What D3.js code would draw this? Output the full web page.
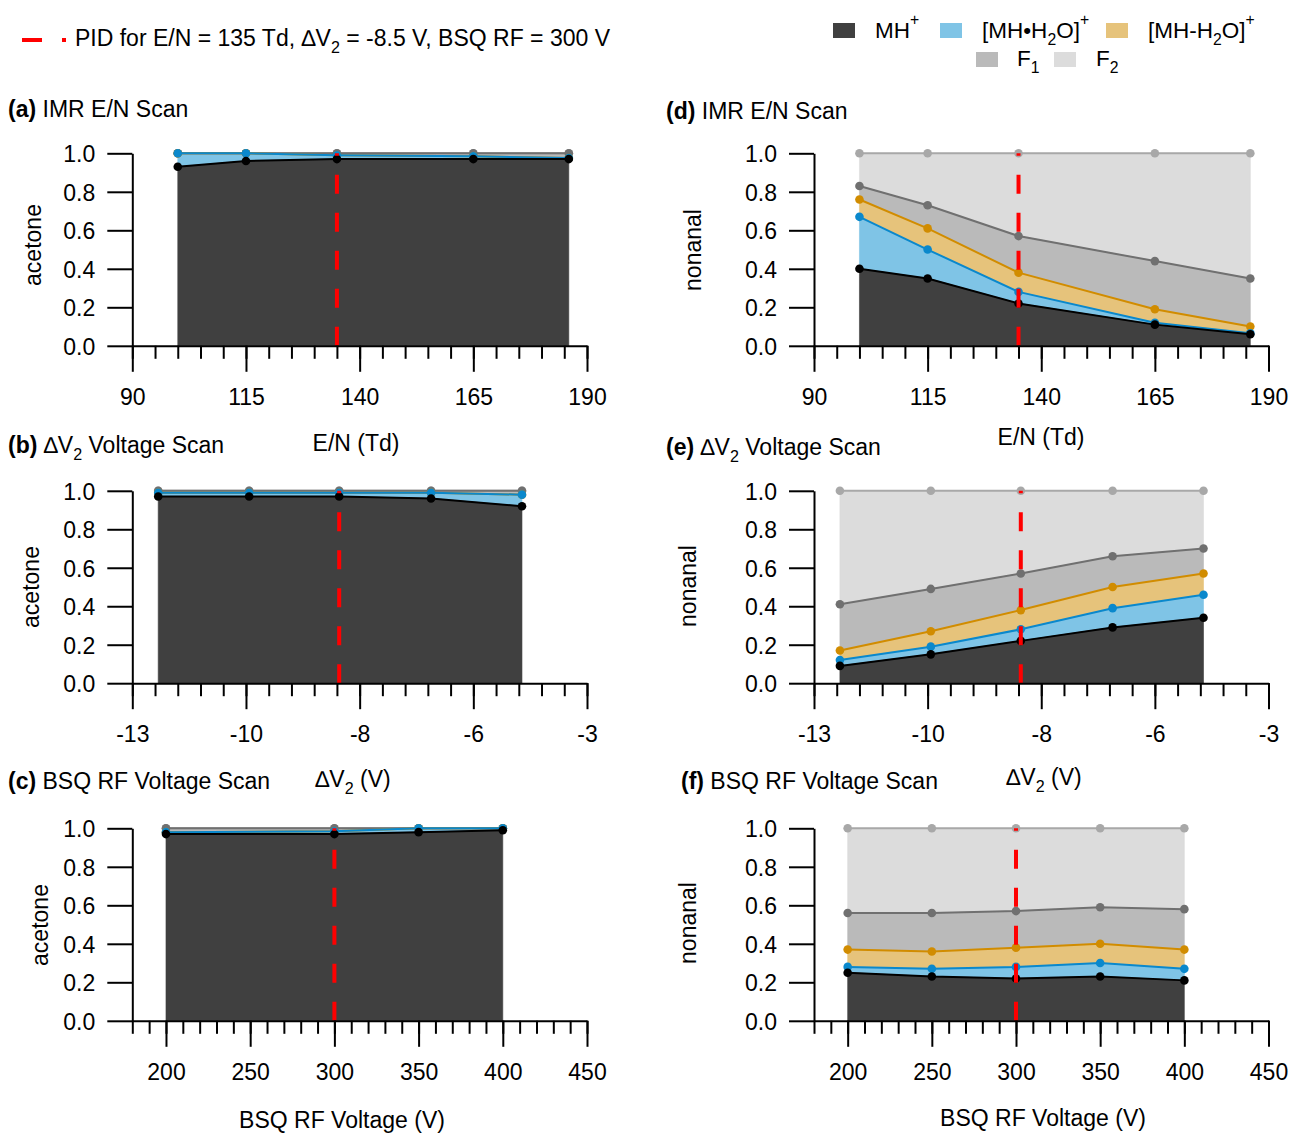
<!DOCTYPE html>
<html><head><meta charset="utf-8">
<script src="https://cdn.jsdelivr.net/npm/d3@7"></script>
<style>
body{margin:0;background:#fff}
svg{display:block}
text{font-family:"Liberation Sans",Arial,Helvetica,sans-serif;fill:#000}
</style>
</head><body>
<svg id="chart" width="1291" height="1133"></svg>
<script>
// ---------------- DATA ----------------
const seriesKeys = ["MH", "MHH2O", "MHmH2O", "F1", "F2"];

// x values
const enX = [100, 115, 135, 165, 186];
const dv2X = [-12.43, -10.43, -8.45, -6.43, -4.43];
const rfXAcetone = [200, 300, 350, 400];
const rfXNonanal = [200, 250, 300, 350, 400];

// tick values / labels
const enTicks = [90, 115, 140, 165, 190];
const enTickLabels = ["90", "115", "140", "165", "190"];
const dv2Ticks = [-13, -10.5, -8, -5.5, -3];
const dv2TickLabels = ["-13", "-10", "-8", "-6", "-3"];
const rfTicks = [200, 250, 300, 350, 400, 450];
const rfTickLabels = ["200", "250", "300", "350", "400", "450"];
const yTicks = [0, 0.2, 0.4, 0.6, 0.8, 1.0];
const yTickLabels = ["0.0", "0.2", "0.4", "0.6", "0.8", "1.0"];

// acetone - E/N scan
const acEN_MH     = [0.93, 0.96, 0.97, 0.97, 0.97];
const acEN_MHH2O  = [0.07, 0.04, 0.02, 0.015, 0.005];
const acEN_MHmH2O = [0, 0, 0, 0, 0];
const acEN_F1     = [0, 0, 0.01, 0.015, 0.025];
const acEN_F2     = [0, 0, 0, 0, 0];
// acetone - dV2 scan
const acDV_MH     = [0.97, 0.97, 0.97, 0.96, 0.92];
const acDV_MHH2O  = [0.02, 0.02, 0.02, 0.03, 0.06];
const acDV_MHmH2O = [0, 0, 0, 0, 0];
const acDV_F1     = [0.01, 0.01, 0.01, 0.01, 0.02];
const acDV_F2     = [0, 0, 0, 0, 0];
// acetone - BSQ RF scan
const acRF_MH     = [0.97, 0.97, 0.98, 0.99];
const acRF_MHH2O  = [0.01, 0.015, 0.02, 0.01];
const acRF_MHmH2O = [0, 0, 0, 0];
const acRF_F1     = [0.02, 0.015, 0, 0];
const acRF_F2     = [0, 0, 0, 0];
// nonanal - E/N scan
const noEN_MH     = [0.40, 0.35, 0.22, 0.11, 0.06];
const noEN_MHH2O  = [0.27, 0.15, 0.06, 0.01, 0.005];
const noEN_MHmH2O = [0.09, 0.11, 0.10, 0.07, 0.035];
const noEN_F1     = [0.07, 0.12, 0.19, 0.25, 0.25];
const noEN_F2     = [0.17, 0.27, 0.43, 0.56, 0.65];
// nonanal - dV2 scan
const noDV_MH     = [0.09, 0.15, 0.22, 0.29, 0.34];
const noDV_MHH2O  = [0.03, 0.04, 0.06, 0.10, 0.12];
const noDV_MHmH2O = [0.05, 0.08, 0.10, 0.11, 0.11];
const noDV_F1     = [0.24, 0.22, 0.19, 0.16, 0.13];
const noDV_F2     = [0.59, 0.51, 0.43, 0.34, 0.30];
// nonanal - BSQ RF scan
const noRF_MH     = [0.25, 0.23, 0.22, 0.23, 0.21];
const noRF_MHH2O  = [0.03, 0.04, 0.06, 0.07, 0.06];
const noRF_MHmH2O = [0.09, 0.09, 0.10, 0.10, 0.10];
const noRF_F1     = [0.19, 0.20, 0.19, 0.19, 0.21];
const noRF_F2     = [0.44, 0.44, 0.43, 0.41, 0.42];

// ---------------- STYLE ----------------
const fillColors = {MH: "#404040", MHH2O: "#7fc4e6", MHmH2O: "#e6c37b", F1: "#bababa", F2: "#dcdcdc"};
const lineColors = {MH: "#000000", MHH2O: "#0a88cc", MHmH2O: "#d18c00", F1: "#707070", F2: "#a8a8a8"};
const FS = 23, TFS = 23;

const svg = d3.select("#chart");

function rich(g, x, y, segs, opts = {}) {
  const fs = opts.fs || FS;
  const t = g.append("text").attr("x", x).attr("y", y).attr("font-size", fs)
    .attr("text-anchor", opts.anchor || "start");
  if (opts.transform) t.attr("transform", opts.transform);
  let shift = 0;
  segs.forEach(s => {
    const sp = t.append("tspan").text(s.t);
    let target = 0;
    if (s.sub) { sp.attr("font-size", fs * 0.7); target = fs * 0.3; }
    if (s.sup) { sp.attr("font-size", fs * 0.7); target = -fs * 0.6; }
    if (s.bold) sp.attr("font-weight", "bold");
    if (target !== shift) { sp.attr("dy", target - shift); shift = target; }
  });
  return t;
}

const cols = [[132.3, 587], [814, 1268.5]];
const rows = [[345.8, 153.3], [683.2, 490.8], [1020.8, 828.3]];

function mk(x, arrs) {
  return x.map((v, i) => ({x: v, MH: arrs[0][i], MHH2O: arrs[1][i], MHmH2O: arrs[2][i], F1: arrs[3][i], F2: arrs[4][i]}));
}

const dVlabel = [{t: "\u2206V"}, {t: "2", sub: true}, {t: " (V)"}];

const panels = [
  {col: 0, row: 0, data: mk(enX, [acEN_MH, acEN_MHH2O, acEN_MHmH2O, acEN_F1, acEN_F2]), pid: 2,
   domain: [90, 190], ticks: enTicks, tickLabels: enTickLabels, minorStep: 5,
   title: [{t: "(a)", bold: true}, {t: " IMR E/N Scan"}], titlePos: [8, 109],
   xlabel: [{t: "E/N (Td)"}], xlabelPos: [356, 443], ylabel: "acetone", ylabelPos: [33, 245]},
  {col: 0, row: 1, data: mk(dv2X, [acDV_MH, acDV_MHH2O, acDV_MHmH2O, acDV_F1, acDV_F2]), pid: 2,
   domain: [-13, -3], ticks: dv2Ticks, tickLabels: dv2TickLabels, minorStep: 0.5,
   title: [{t: "(b)", bold: true}, {t: " \u2206V"}, {t: "2", sub: true}, {t: "  Voltage Scan"}], titlePos: [8, 445],
   xlabel: dVlabel, xlabelPos: [353, 779], ylabel: "acetone", ylabelPos: [31, 587]},
  {col: 0, row: 2, data: mk(rfXAcetone, [acRF_MH, acRF_MHH2O, acRF_MHmH2O, acRF_F1, acRF_F2]), pid: 1,
   domain: [180, 450], ticks: rfTicks, tickLabels: rfTickLabels, minorStep: 10,
   title: [{t: "(c)", bold: true}, {t: " BSQ RF Voltage Scan"}], titlePos: [8, 781],
   xlabel: [{t: "BSQ RF Voltage (V)"}], xlabelPos: [342, 1120], ylabel: "acetone", ylabelPos: [40, 925]},
  {col: 1, row: 0, data: mk(enX, [noEN_MH, noEN_MHH2O, noEN_MHmH2O, noEN_F1, noEN_F2]), pid: 2,
   domain: [90, 190], ticks: enTicks, tickLabels: enTickLabels, minorStep: 5,
   title: [{t: "(d)", bold: true}, {t: " IMR E/N Scan"}], titlePos: [666, 111],
   xlabel: [{t: "E/N (Td)"}], xlabelPos: [1041, 437], ylabel: "nonanal", ylabelPos: [693, 250]},
  {col: 1, row: 1, data: mk(dv2X, [noDV_MH, noDV_MHH2O, noDV_MHmH2O, noDV_F1, noDV_F2]), pid: 2,
   domain: [-13, -3], ticks: dv2Ticks, tickLabels: dv2TickLabels, minorStep: 0.5,
   title: [{t: "(e)", bold: true}, {t: " \u2206V"}, {t: "2", sub: true}, {t: "  Voltage Scan"}], titlePos: [666, 447],
   xlabel: dVlabel, xlabelPos: [1044, 777], ylabel: "nonanal", ylabelPos: [688, 586]},
  {col: 1, row: 2, data: mk(rfXNonanal, [noRF_MH, noRF_MHH2O, noRF_MHmH2O, noRF_F1, noRF_F2]), pid: 2,
   domain: [180, 450], ticks: rfTicks, tickLabels: rfTickLabels, minorStep: 10,
   title: [{t: "(f)", bold: true}, {t: " BSQ RF Voltage Scan"}], titlePos: [681, 781],
   xlabel: [{t: "BSQ RF Voltage (V)"}], xlabelPos: [1043, 1118], ylabel: "nonanal", ylabelPos: [688, 923]}
];

const stack = d3.stack().keys(seriesKeys);

panels.forEach(p => {
  const x = d3.scaleLinear().domain(p.domain).range(cols[p.col]);
  const y = d3.scaleLinear().domain([0, 1]).range(rows[p.row]);
  const g = svg.append("g");
  const layers = stack(p.data);

  // draw from top layer down so MH is on top
  layers.slice().reverse().forEach(layer => {
    const key = layer.key;
    const area = d3.area().x(d => x(d.data.x)).y0(d => y(d[0])).y1(d => y(d[1]));
    g.append("path").datum(layer).attr("d", area).attr("fill", fillColors[key])
      .attr("stroke", fillColors[key]).attr("stroke-width", 0.6);
  });
  layers.slice().reverse().forEach(layer => {
    const key = layer.key;
    const line = d3.line().x(d => x(d.data.x)).y(d => y(d[1]));
    g.append("path").datum(layer).attr("d", line).attr("fill", "none")
      .attr("stroke", lineColors[key]).attr("stroke-width", 2);
    g.selectAll(null).data(layer).enter().append("circle")
      .attr("cx", d => x(d.data.x)).attr("cy", d => y(d[1])).attr("r", 4.3)
      .attr("fill", lineColors[key]);
  });

  // PID line
  const px = x(p.data[p.pid].x);
  g.append("line").attr("x1", px).attr("x2", px).attr("y1", y(0)).attr("y2", y(1))
    .attr("stroke", "#ff0000").attr("stroke-width", 4).attr("stroke-dasharray", "19,19");

  // x axis minor
  const minor = d3.range(p.domain[0], p.domain[1] + p.minorStep / 2, p.minorStep);
  const xMinor = d3.axisBottom(x).tickValues(minor).tickSize(13).tickSizeOuter(0).tickFormat("");
  const gxm = g.append("g").attr("transform", `translate(0,${y(0)})`).call(xMinor);
  gxm.select(".domain").attr("stroke-width", 2);
  gxm.selectAll(".tick line").attr("stroke-width", 2);
  // x axis major
  const xMajor = d3.axisBottom(x).tickValues(p.ticks).tickSize(26).tickSizeOuter(0)
    .tickFormat((d, i) => p.tickLabels[i]);
  const gx = g.append("g").attr("transform", `translate(0,${y(0)})`).call(xMajor);
  gx.select(".domain").remove();
  gx.selectAll(".tick line").attr("stroke-width", 2);
  gx.selectAll(".tick text").attr("font-size", TFS).attr("font-family", null)
    .attr("y", 51 + TFS * 0.36).attr("dy", null).attr("fill", "#000");

  // y axis
  const yAxis = d3.axisLeft(y).tickValues(yTicks).tickSize(25).tickSizeOuter(0).tickPadding(12)
    .tickFormat((d, i) => yTickLabels[i]);
  const gy = g.append("g").attr("transform", `translate(${cols[p.col][0]},0)`).call(yAxis);
  gy.select(".domain").attr("stroke-width", 2);
  gy.selectAll(".tick line").attr("stroke-width", 2);
  gy.selectAll(".tick text").attr("font-size", TFS).attr("font-family", null).attr("fill", "#000")
    .attr("dy", null).attr("y", TFS * 0.36);

  // texts
  rich(svg, p.titlePos[0], p.titlePos[1] + FS * 0.36, p.title);
  rich(svg, p.xlabelPos[0], p.xlabelPos[1] + FS * 0.36, p.xlabel, {anchor: "middle"});
  rich(svg, 0, FS * 0.36, [{t: p.ylabel}], {anchor: "middle",
    transform: `translate(${p.ylabelPos[0]},${p.ylabelPos[1]}) rotate(-90)`});
});

// ---------------- LEGENDS ----------------
const lg = svg.append("g");
lg.append("line").attr("x1", 22).attr("x2", 66).attr("y1", 40).attr("y2", 40)
  .attr("stroke", "#ff0000").attr("stroke-width", 4).attr("stroke-dasharray", "20,20");
rich(lg, 75, 38 + FS * 0.36, [{t: "PID for E/N = 135 Td, \u2206V"}, {t: "2", sub: true}, {t: " = -8.5 V, BSQ RF = 300 V"}]);

const legendItems = [
  {key: "MH", sx: 833, sy: 23, tx: 875, ty: 38, segs: [{t: "MH"}, {t: "+", sup: true}]},
  {key: "MHH2O", sx: 940, sy: 23, tx: 982, ty: 38, segs: [{t: "[MH\u2022H"}, {t: "2", sub: true}, {t: "O]"}, {t: "+", sup: true}]},
  {key: "MHmH2O", sx: 1106, sy: 23, tx: 1148, ty: 38, segs: [{t: "[MH-H"}, {t: "2", sub: true}, {t: "O]"}, {t: "+", sup: true}]},
  {key: "F1", sx: 976, sy: 52, tx: 1017, ty: 66, segs: [{t: "F"}, {t: "1", sub: true}]},
  {key: "F2", sx: 1054, sy: 52, tx: 1096, ty: 66, segs: [{t: "F"}, {t: "2", sub: true}]}
];
legendItems.forEach(it => {
  lg.append("rect").attr("x", it.sx).attr("y", it.sy).attr("width", 22).attr("height", 15)
    .attr("fill", fillColors[it.key]);
  rich(lg, it.tx, it.ty, it.segs, {fs: 22.5});
});
</script>
</body></html>
